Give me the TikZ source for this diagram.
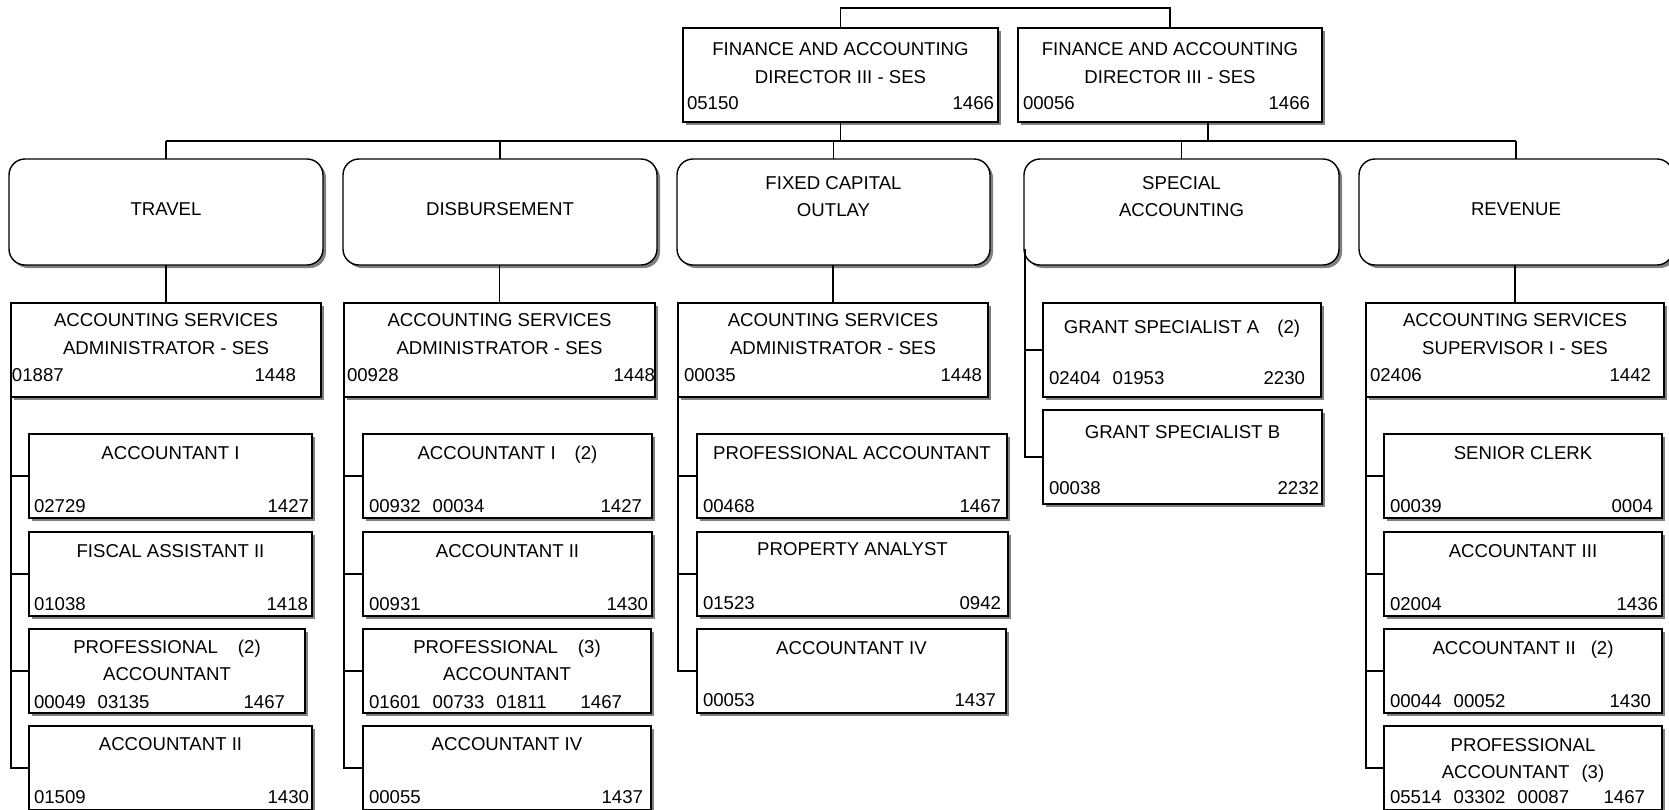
\documentclass[tikz,border=0pt]{standalone}
\usepackage{fontspec}
\setmainfont{Liberation Sans}
\usetikzlibrary{shadows,calc}

% box with its top-left corner at (#3,#4) and bottom-right at (#5,#6)
\newcommand{\jbox}[6][box]{\node[#1, anchor=north west, minimum width={#5-#3}, minimum height={#6-#4}] (#2) at (#3,#4) {};}
% centred title line on a baseline
\newcommand{\ttl}[4]{\node[lbl, anchor=base] (#1) at (#2,#3) {#4};}
% position numbers, left-started and right-ended
\newcommand{\nlft}[4]{\node[lbl, anchor=base west] (#1) at (#2,#3) {#4};}
\newcommand{\nrgt}[4]{\node[lbl, anchor=base east] (#1) at (#2,#3) {#4};}
\newcommand{\numgap}{\hspace{12pt}}

\begin{document}
\begin{tikzpicture}[x=1pt,y=-1pt,
  box/.style={draw=black, line width=1.4pt, fill=white, inner sep=0pt, outer sep=0pt,
    drop shadow={shadow xshift=3pt, shadow yshift=-3pt, fill=black!50, opacity=1}},
  dept/.style={box, rounded corners=16pt},
  lbl/.style={inner sep=0pt, outer sep=0pt, font=\fontsize{18.6}{22}\selectfont},
  link/.style={draw=black, line width=1.1pt}]

\useasboundingbox (0,0) rectangle (1669,809);
\clip (0,0) rectangle (1669,809);
\fill[white] (0,0) rectangle (1669,809);

% ---------- directors ----------
\jbox{dir1}{683}{28}{998}{122}
\ttl{dir1a}{840.5}{55}{FINANCE AND ACCOUNTING}
\ttl{dir1b}{840.5}{83.5}{DIRECTOR III - SES}
\nlft{dir1l}{687}{109.5}{05150}
\nrgt{dir1r}{994}{109.5}{1466}

\jbox{dir2}{1018}{28}{1322}{122}
\ttl{dir2a}{1170}{55}{FINANCE AND ACCOUNTING}
\ttl{dir2b}{1170}{83.5}{DIRECTOR III - SES}
\nlft{dir2l}{1023}{109.5}{00056}
\nrgt{dir2r}{1310}{109.5}{1466}

% ---------- sections ----------
\jbox[dept]{travel}{9}{159}{323}{265}
\ttl{travela}{166}{215}{TRAVEL}
\jbox[dept]{disb}{343}{159}{657}{265}
\ttl{disba}{500}{215}{DISBURSEMENT}
\jbox[dept]{fco}{677}{159}{990}{265}
\ttl{fcoa}{833.5}{189}{FIXED CAPITAL}
\ttl{fcob}{833.5}{216}{OUTLAY}
\jbox[dept]{spec}{1024}{159}{1339}{265}
\ttl{speca}{1181.5}{189}{SPECIAL}
\ttl{specb}{1181.5}{216}{ACCOUNTING}
\jbox[dept]{rev}{1359}{159}{1673}{265}
\ttl{reva}{1516}{215}{REVENUE}

% ---------- administrators ----------
\jbox{tadm}{11}{303}{321}{397}
\ttl{tadma}{166}{326.6}{ACCOUNTING SERVICES}
\ttl{tadmb}{166}{354.6}{ADMINISTRATOR - SES}
\nlft{tadml}{12}{381.6}{01887}
\nrgt{tadmr}{296}{381.6}{1448}

\jbox{dadm}{344}{303}{655}{397}
\ttl{dadma}{499.5}{326.6}{ACCOUNTING SERVICES}
\ttl{dadmb}{499.5}{354.6}{ADMINISTRATOR - SES}
\nlft{dadml}{347}{381.6}{00928}
\nrgt{dadmr}{655}{381.6}{1448}

\jbox{fadm}{678}{303}{988}{397}
\ttl{fadma}{833}{326.6}{ACOUNTING SERVICES}
\ttl{fadmb}{833}{354.6}{ADMINISTRATOR - SES}
\nlft{fadml}{684}{381.6}{00035}
\nrgt{fadmr}{982}{381.6}{1448}

\jbox{radm}{1366}{303}{1664}{397}
\ttl{radma}{1515}{326.6}{ACCOUNTING SERVICES}
\ttl{radmb}{1515}{354.6}{SUPERVISOR I - SES}
\nlft{radml}{1370}{381.6}{02406}
\nrgt{radmr}{1651}{381.6}{1442}

% ---------- travel staff ----------
\jbox{t1}{29}{434}{312}{518}
\ttl{t1a}{170.5}{459.6}{ACCOUNTANT I}
\nlft{t1l}{34}{512.6}{02729}
\nrgt{t1r}{309}{512.6}{1427}
\jbox{t2}{29}{532}{312}{616}
\ttl{t2a}{170.5}{557.6}{FISCAL ASSISTANT II}
\nlft{t2l}{34}{610.6}{01038}
\nrgt{t2r}{308}{610.6}{1418}
\jbox{t3}{29}{629}{305}{713}
\ttl{t3a}{167}{653.6}{PROFESSIONAL\hspace{20pt}(2)}
\ttl{t3b}{167}{680}{ACCOUNTANT}
\nlft{t3l}{34}{708.6}{00049\numgap 03135}
\nrgt{t3r}{285}{708.6}{1467}
\jbox{t4}{29}{726}{312}{810}
\ttl{t4a}{170.5}{750.6}{ACCOUNTANT II}
\nlft{t4l}{34}{803.6}{01509}
\nrgt{t4r}{309}{803.6}{1430}

% ---------- disbursement staff ----------
\jbox{d1}{363}{434}{652}{518}
\ttl{d1a}{507.5}{459.6}{ACCOUNTANT I\hspace{19pt}(2)}
\nlft{d1l}{369}{512.6}{00932\numgap 00034}
\nrgt{d1r}{642}{512.6}{1427}
\jbox{d2}{363}{532}{652}{616}
\ttl{d2a}{507.5}{557.6}{ACCOUNTANT II}
\nlft{d2l}{369}{610.6}{00931}
\nrgt{d2r}{648}{610.6}{1430}
\jbox{d3}{363}{629}{651}{713}
\ttl{d3a}{507}{653.6}{PROFESSIONAL\hspace{20pt}(3)}
\ttl{d3b}{507}{680}{ACCOUNTANT}
\nlft{d3l}{369}{708.6}{01601\numgap 00733\numgap 01811}
\nrgt{d3r}{622}{708.6}{1467}
\jbox{d4}{363}{726}{651}{810}
\ttl{d4a}{507}{750.6}{ACCOUNTANT IV}
\nlft{d4l}{369}{803.6}{00055}
\nrgt{d4r}{643}{803.6}{1437}

% ---------- fixed capital outlay staff ----------
\jbox{f1}{697}{434}{1007}{518}
\ttl{f1a}{852}{459.6}{PROFESSIONAL ACCOUNTANT}
\nlft{f1l}{703}{512.6}{00468}
\nrgt{f1r}{1001}{512.6}{1467}
\jbox{f2}{697}{532}{1008}{616}
\ttl{f2a}{852.5}{555.6}{PROPERTY ANALYST}
\nlft{f2l}{703}{609.6}{01523}
\nrgt{f2r}{1001}{609.6}{0942}
\jbox{f3}{697}{629}{1006}{713}
\ttl{f3a}{851.5}{654.6}{ACCOUNTANT IV}
\nlft{f3l}{703}{706.6}{00053}
\nrgt{f3r}{996}{706.6}{1437}

% ---------- special accounting staff ----------
\jbox{gsa}{1043}{303}{1321}{397}
\ttl{gsaa}{1182}{333.6}{GRANT SPECIALIST A\hspace{18pt}(2)}
\nlft{gsal}{1049}{384.6}{02404\numgap 01953}
\nrgt{gsar}{1305}{384.6}{2230}
\jbox{gsb}{1043}{410}{1322}{504}
\ttl{gsba}{1182.5}{438.6}{GRANT SPECIALIST B}
\nlft{gsbl}{1049}{494.6}{00038}
\nrgt{gsbr}{1319}{494.6}{2232}

% ---------- revenue staff ----------
\jbox{r1}{1384}{434}{1662}{518}
\ttl{r1a}{1523}{459.6}{SENIOR CLERK}
\nlft{r1l}{1390}{512.6}{00039}
\nrgt{r1r}{1653}{512.6}{0004}
\jbox{r2}{1384}{532}{1662}{616}
\ttl{r2a}{1523}{557.6}{ACCOUNTANT III}
\nlft{r2l}{1390}{610.6}{02004}
\nrgt{r2r}{1658}{610.6}{1436}
\jbox{r3}{1384}{629}{1662}{713}
\ttl{r3a}{1523}{654.6}{ACCOUNTANT II\hspace{15pt}(2)}
\nlft{r3l}{1390}{707.6}{00044\numgap 00052}
\nrgt{r3r}{1651}{707.6}{1430}
\jbox{r4}{1384}{726}{1662}{810}
\ttl{r4a}{1523}{751.6}{PROFESSIONAL}
\ttl{r4b}{1523}{778.6}{ACCOUNTANT\hspace{12pt}(3)}
\nlft{r4l}{1390}{803.6}{05514\numgap 03302\numgap 00087}
\nrgt{r4r}{1645}{803.6}{1467}

% ---------- connectors ----------
\coordinate (busy) at (0,141);
\draw[link] (dir1.north) -- ++(0,-20) -| (dir2.north);
\draw[link] (dir1.south) -- (dir1.south |- busy);
\draw[link] ($(dir2.south)+(38,0)$) -- ($(dir2.south |- busy)+(38,0)$);
\draw[link] (travel.north |- busy) -- (rev.north |- busy);
\foreach \d in {travel,disb,fco,spec,rev}
  \draw[link] (\d.north) -- (\d.north |- busy);

\draw[link] (tadm.north) -- (tadm.north |- travel.south);
\draw[link] (dadm.north) -- (dadm.north |- disb.south);
\draw[link] (fadm.north) -- (fadm.north |- fco.south);
\draw[link] (radm.north) -- (radm.north |- rev.south);

\draw[link] (tadm.south west) |- (t4.west);
\foreach \c in {t1,t2,t3}
  \draw[link] (\c.west) -- (\c.west -| tadm.south west);
\draw[link] (dadm.south west) |- (d4.west);
\foreach \c in {d1,d2,d3}
  \draw[link] (\c.west) -- (\c.west -| dadm.south west);
\draw[link] (fadm.south west) |- (f3.west);
\foreach \c in {f1,f2}
  \draw[link] (\c.west) -- (\c.west -| fadm.south west);
\draw[link] (radm.south west) |- (r4.west);
\foreach \c in {r1,r2,r3}
  \draw[link] (\c.west) -- (\c.west -| radm.south west);

\coordinate (sptop) at ([xshift=1pt,yshift=16pt]spec.south west);
\draw[link] (sptop) |- (gsb.west);
\draw[link] (gsa.west) -- (gsa.west -| sptop);
\end{tikzpicture}
\end{document}
